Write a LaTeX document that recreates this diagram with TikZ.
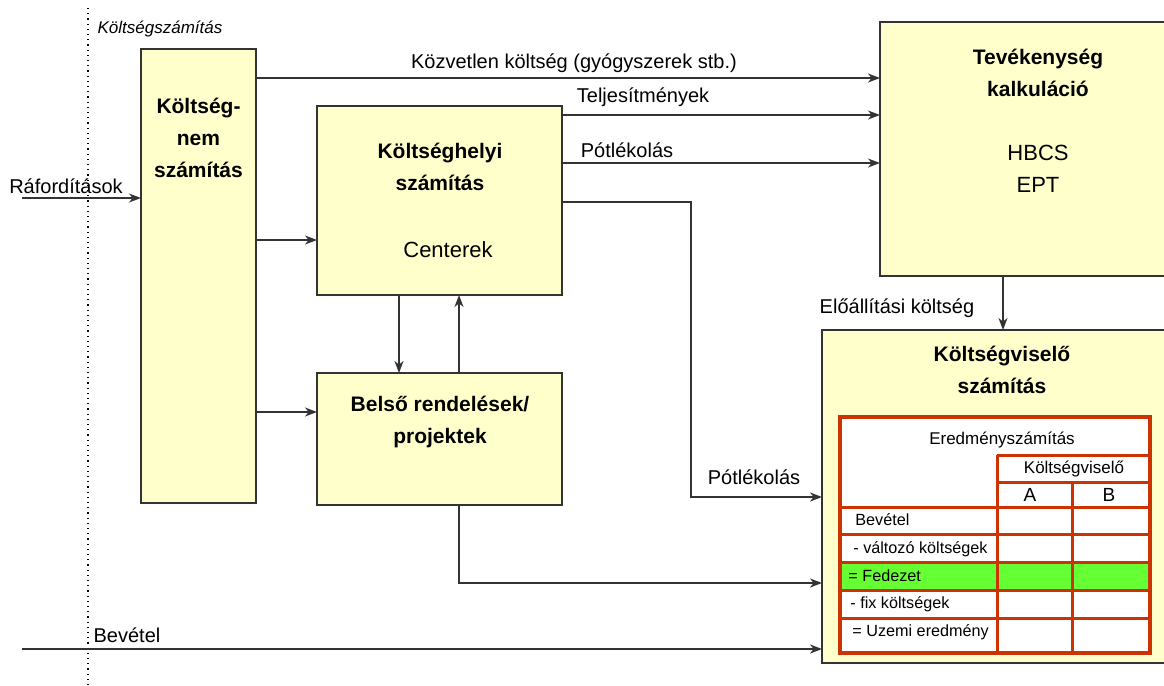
\documentclass[tikz,border=0pt]{standalone}
\usepackage{fontspec}
\setmainfont{Liberation Sans}
\usetikzlibrary{arrows.meta}
\usetikzlibrary{calc}
\definecolor{boxgelb}{HTML}{FFFFCC}
\definecolor{tabrot}{HTML}{CC3300}
\definecolor{fedgruen}{HTML}{66FF33}
\definecolor{linie}{HTML}{333333}

\begin{document}
\begin{tikzpicture}[x=0.5pt, y=-0.5pt, % 1 Einheit = 1 Pixel, y nach unten
  kasten/.style={draw=linie, fill=boxgelb, line width=0.7pt, inner sep=0pt, outer sep=0pt},
  pfeil/.style={-{Stealth[length=6pt,width=4.5pt,inset=1.8pt]}, draw=linie, line width=0.7pt},
  titel/.style={font=\fontsize{10.5}{16}\selectfont\bfseries, align=center, inner sep=0pt},
  inhalt/.style={font=\fontsize{11}{16}\selectfont, align=center, inner sep=0pt},
  beschr/.style={font=\fontsize{10}{12}\selectfont, inner sep=0pt, anchor=base},
  zelle/.style={font=\fontsize{8.1}{10}\selectfont, inner sep=0pt, anchor=base west}]

\useasboundingbox (0,0) rectangle (1164,686);
\clip (0,0) rectangle (1164,686);

% Grenze Kostenrechnung
\draw[dotted, line width=0.6pt] (88,8) -- (88,686);
\node[beschr, font=\fontsize{8.5}{10}\selectfont\itshape] (l-ksz) at (160,33) {Költségszámítás};

% Kaesten
\node[kasten, minimum width=57.5pt, minimum height=227pt] (kn) at (198.5,276) {};
\node[kasten, minimum width=122.5pt, minimum height=94.5pt] (kh) at (439.5,200.5) {};
\node[kasten, minimum width=122.5pt, minimum height=66pt] (br) at (439.5,439) {};
\node[kasten, minimum width=150pt, minimum height=127pt] (tk) at (1030,149) {};
\node[kasten, minimum width=179pt, minimum height=166.5pt] (kv) at (1001,496.5) {};

% Texte in den Kaesten
\node[titel] (kn-t) at (198.5,138) {Költség-\\nem\\számítás};
\node[titel] (kh-t) at (440,167) {Költséghelyi\\számítás};
\node[inhalt] (kh-c) at (448,250) {Centerek};
\node[titel] (br-t) at (440,422) {Belső rendelések/\\projektek};
\node[titel] (tk-t) at (1038,73) {Tevékenység\\kalkuláció};
\node[inhalt] (tk-c) at (1038,169) {HBCS\\EPT};
\node[titel] (kv-t) at (1002,370) {Költségviselő\\számítás};

% Eredményszámítás-Tabelle
\fill[white] (840,417) rectangle (1150,653);
\fill[fedgruen] (840,562) rectangle (1150,590);
\draw[tabrot, line width=1.5pt] (997,455) -- (1150,455) (997,482) -- (1150,482)
  (997,455) -- (997,653) (1072,482) -- (1072,653);
\foreach \y in {507,534,562,590,618} {
  \draw[tabrot, line width=1.5pt] (840,\y) -- (1150,\y); % Zeilen
}
\draw[tabrot, line width=2pt] (840,417) rectangle (1150,653);

\node[font=\fontsize{8.5}{10}\selectfont, inner sep=0pt] (t-er) at (1002,440) {Eredményszámítás};
\node[font=\fontsize{8.5}{10}\selectfont, inner sep=0pt] (t-kv) at (1074,469) {Költségviselő};
\node[font=\fontsize{9.5}{10}\selectfont, inner sep=0pt] (t-a) at (1030,495) {A};
\node[font=\fontsize{9.5}{10}\selectfont, inner sep=0pt] (t-b) at (1109,495) {B};
\foreach \y/\x/\txt in {525/855/Bevétel, 553/853/- változó költségek, 581/848/= Fedezet,
  608/850/- fix költségek, 636/852/= Uzemi eredmény} {
  \node[zelle] (z\y) at (\x,\y) {\txt}; % Zeilenbeschriftung
}

% Hoehen und Knicke der Pfeile
\coordinate (h-raf) at (22,198);
\coordinate (h-kozv) at (0,78);
\coordinate (h-telj) at (0,115);
\coordinate (h-potl) at (0,163);
\coordinate (h-ki) at (0,202);
\coordinate (h-kh) at (0,240);
\coordinate (h-br) at (0,412);
\coordinate (knick) at (691,497);
\coordinate (h-bel) at (0,583);
\coordinate (h-bev) at (22,649);
\coordinate (x-le) at (399,0);
\coordinate (x-fel) at (459,0);
\coordinate (x-elo) at (1003,0);

% Pfeile
\draw[pfeil] (h-raf) -- (kn.west |- h-raf);
\draw[pfeil] (kn.east |- h-kozv) -- (tk.west |- h-kozv);
\draw[pfeil] (kn.east |- h-kh) -- (kh.west |- h-kh);
\draw[pfeil] (kn.east |- h-br) -- (br.west |- h-br);
\draw[pfeil] (kh.east |- h-telj) -- (tk.west |- h-telj);
\draw[pfeil] (kh.east |- h-potl) -- (tk.west |- h-potl);
\draw[pfeil] (kh.east |- h-ki) -| (knick) -- (kv.west |- knick);
\draw[pfeil] (kh.south -| x-le) -- (br.north -| x-le);
\draw[pfeil] (br.north -| x-fel) -- (kh.south -| x-fel);
\draw[pfeil] (br.south -| x-fel) |- (kv.west |- h-bel);
\draw[pfeil] (tk.south -| x-elo) -- (kv.north -| x-elo);
\draw[pfeil] (h-bev) -- (kv.west |- h-bev);

% Beschriftungen
\node[beschr] (l-raf) at (66,193) {Ráfordítások};
\node[beschr] (l-kozv) at (574,68) {Közvetlen költség (gyógyszerek stb.)};
\node[beschr] (l-telj) at (643,102) {Teljesítmények};
\node[beschr] (l-potl) at (627,157) {Pótlékolás};
\node[beschr] (l-potl2) at (754,484) {Pótlékolás};
\node[beschr] (l-elo) at (897,313) {Előállítási költség};
\node[beschr] (l-bev) at (127,642) {Bevétel};

\end{tikzpicture}
\end{document}
